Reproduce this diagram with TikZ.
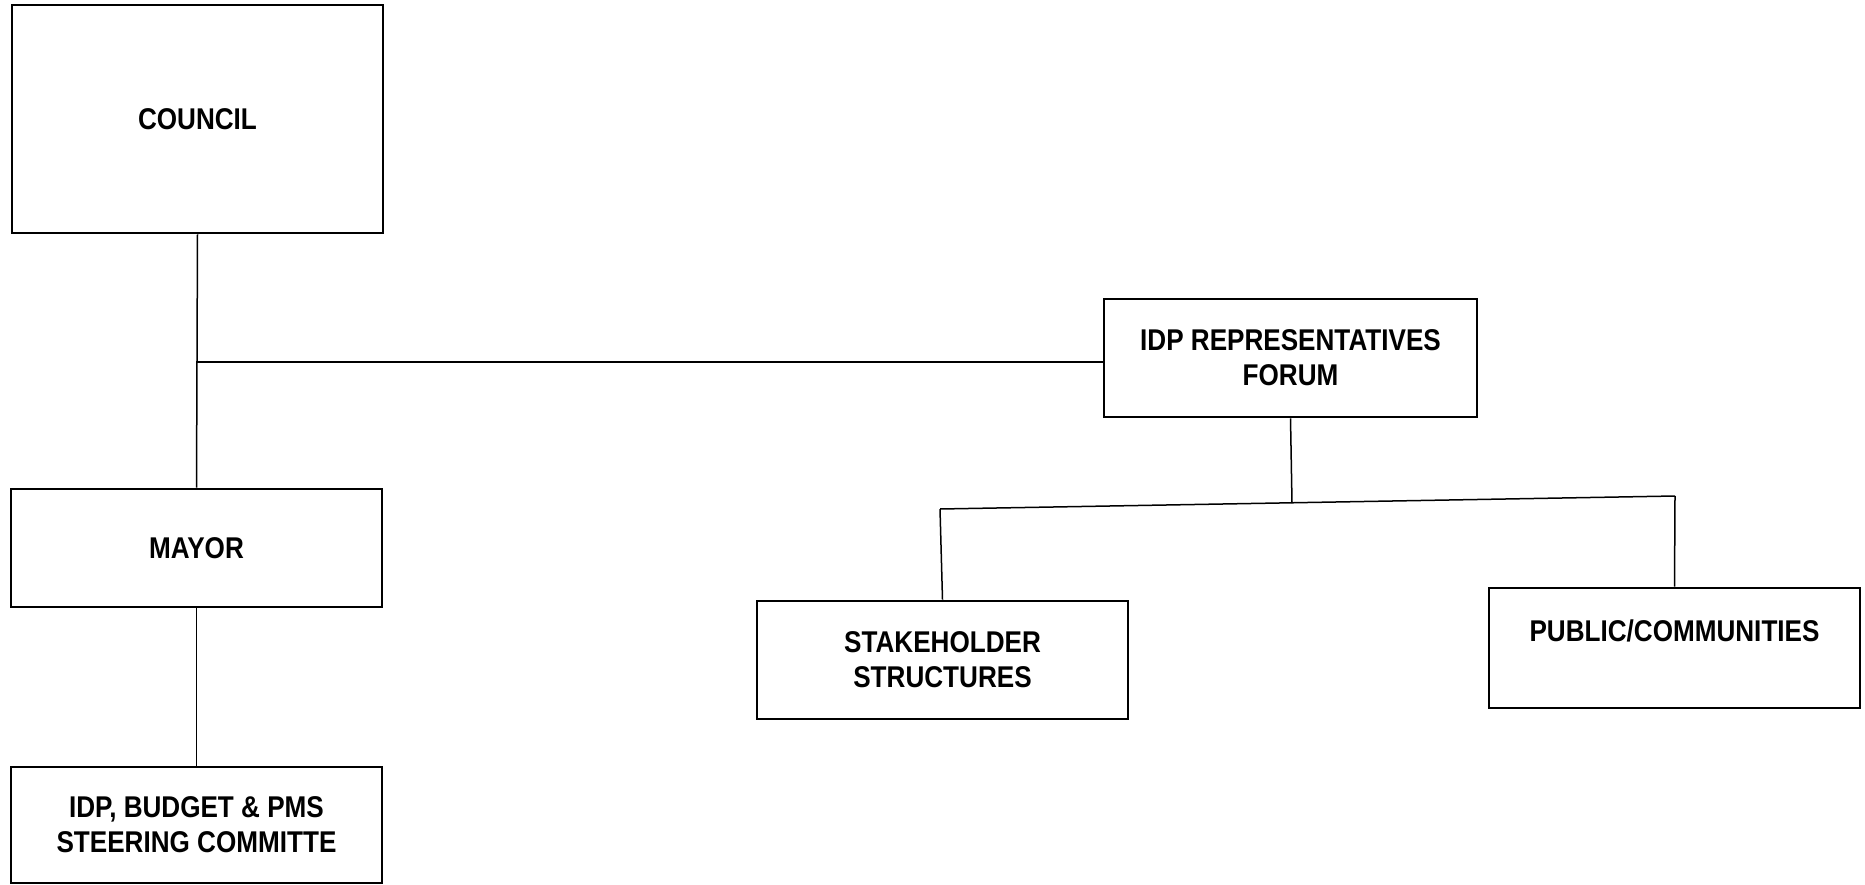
\documentclass[tikz,border=0pt]{standalone}
\usepackage{fontspec}
\setmainfont{Liberation Sans}[FakeStretch=0.87]
\usepackage{tikz}
\usetikzlibrary{positioning}

\begin{document}
\begin{tikzpicture}[
  x=1pt, y=-1pt,
  orgbox/.style={rectangle, draw=black, fill=white, line width=2.6pt,
                 minimum width=371pt, minimum height=118pt, inner sep=0pt,
                 font=\fontsize{30}{35}\selectfont\bfseries, align=center},
  link/.style={draw=black, line width=1.5pt},
]
  \useasboundingbox (0,0) rectangle (1865,885);

  % Left column
  \node[orgbox, minimum height=228pt] (council) at (197.5,119) {COUNCIL};
  \node[orgbox] (mayor) at (196.5,548) {MAYOR};
  \node[orgbox, minimum height=116pt] (steering) at (196.5,825) {IDP, BUDGET \& PMS\\STEERING COMMITTE};

  % Right side
  \node[orgbox, minimum width=373pt] (forum) at (1290.5,358) {IDP REPRESENTATIVES\\FORUM};
  \node[orgbox] (stakeholders) at (942.5,660) {STAKEHOLDER\\STRUCTURES};
  \node[orgbox, minimum height=120pt] (public) at (1674.5,648) {PUBLIC/COMMUNITIES\\\mbox{}};

  % Junctions
  \coordinate (jn) at (196,362);
  \coordinate (brL) at (940,509);
  \coordinate (brM) at (1292,503);
  \coordinate (brR) at (1675,496);

  % Connectors
  \draw[link] (council.south) -- (mayor.north);
  \draw[link] (mayor.south) -- (steering.north);
  \draw[link] (jn) -- (jn -| forum.west);
  \draw[link] (forum.south) -- (brM);
  \draw[link] (brL) -- (brR);
  \draw[link] (brL) -- (stakeholders.north);
  \draw[link] (brR) -- (public.north);
\end{tikzpicture}
\end{document}
